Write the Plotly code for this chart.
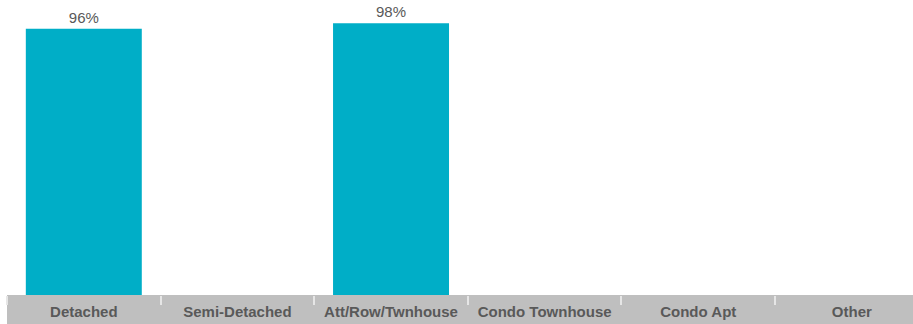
import plotly.graph_objects as go

categories = ["Detached", "Semi-Detached", "Att/Row/Twnhouse", "Condo Townhouse", "Condo Apt", "Other"]
values = [96, None, 98, None, None, None]
labels = ["96%", "", "98%", "", "", ""]

fig = go.Figure()
fig.add_trace(go.Bar(
    x=categories, y=values, width=0.755,
    marker=dict(color="#00AEC7", line=dict(width=0)),
    text=labels, textposition="outside", cliponaxis=False,
    textfont=dict(family="Liberation Sans, Arial", size=15, color="#595959"),
))

fig.add_shape(type="rect", xref="paper", yref="paper", x0=0, x1=1.05, y0=-0.2, y1=0,
              fillcolor="#BFBFBF", line=dict(width=0), layer="below")

fig.update_layout(
    width=913, height=324,
    margin=dict(l=7, r=0, t=0, b=29),
    paper_bgcolor="white", plot_bgcolor="white",
    showlegend=False,
    xaxis=dict(
        range=[-0.5, 5.398], showgrid=False, zeroline=False, showline=False,
        ticks="outside", tickson="boundaries", ticklen=9, tickwidth=1.5, tickcolor="#E6E6E6",
        tickfont=dict(family="Liberation Sans, Arial", size=15, color="#595959", weight="bold"),
        ticklabelstandoff=6,
    ),
    yaxis=dict(range=[0, 106.4], visible=False),
)

fig.write_html("out.html", config={"displayModeBar": False},
               post_script="document.body.style.margin='0';document.body.style.overflow='hidden';")
